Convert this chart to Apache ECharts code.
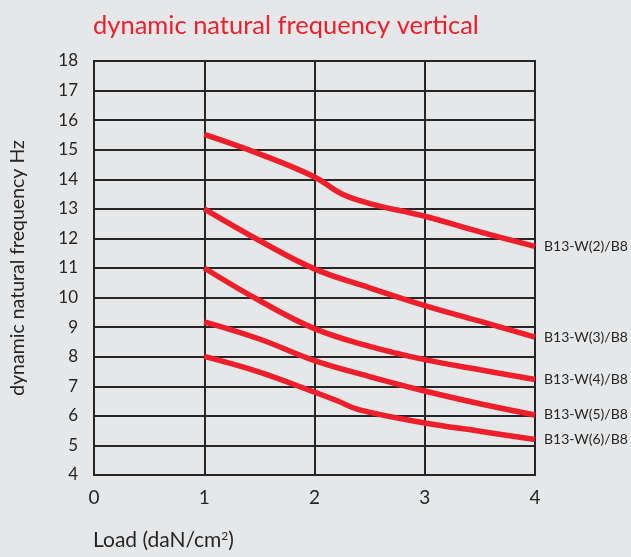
<!DOCTYPE html>
<html>
<head>
<meta charset="utf-8">
<script src="https://cdn.jsdelivr.net/npm/echarts@6/dist/echarts.min.js"></script>
<style>
  html, body { margin: 0; padding: 0; background: #e6e7e9; }
  #chart { width: 631px; height: 557px; }
</style>
</head>
<body>
<div id="chart"></div>
<script>
// load values (daN/cm2) and frequencies (Hz)
var w2 = [[1, 15.52], [1.5, 14.86], [2, 14.08], [2.25, 13.5], [2.5, 13.18], [3, 12.75], [3.5, 12.22], [4, 11.73]];
var w3 = [[1, 13.0], [1.5, 11.93], [2, 10.97], [2.5, 10.33], [3, 9.73], [3.5, 9.2], [4, 8.66]];
var w4 = [[1, 11.0], [1.5, 9.9], [2, 8.95], [2.5, 8.35], [3, 7.9], [3.5, 7.56], [4, 7.23]];
var w5 = [[1, 9.18], [1.5, 8.6], [2, 7.87], [2.5, 7.33], [3, 6.84], [3.5, 6.41], [4, 6.03]];
var w6 = [[1, 8.01], [1.5, 7.48], [2, 6.8], [2.2, 6.52], [2.4, 6.21], [3, 5.76], [3.5, 5.48], [4, 5.2]];
var names = ["B13-W(2)/B8", "B13-W(3)/B8", "B13-W(4)/B8", "B13-W(5)/B8", "B13-W(6)/B8"];
var curves = [w2, w3, w4, w5, w6];

var myChart = echarts.init(document.getElementById("chart"));
var red = "#ee1f2b";
var ink = "#262626";
var font = "Lato";

var series = curves.map(function (d, i) {
  return {
    name: names[i],
    type: "line",
    data: d,
    smooth: 0.4,
    symbol: "none",
    lineStyle: { color: red, width: 5.5 },
    endLabel: {
      show: true,
      formatter: "{a}",
      distance: 9,
      color: ink,
      fontSize: 14,
      fontFamily: font
    }
  };
});

var option = {
  backgroundColor: "#e6e7e9",
  animation: false,
  title: {
    text: "dynamic natural frequency vertical",
    left: 88,
    top: 8,
    textStyle: { color: red, fontSize: 25.5, fontWeight: "normal", fontFamily: font }
  },
  grid: { left: 94, right: 96, top: 61, bottom: 82 },
  xAxis: {
    type: "value",
    min: 0,
    max: 4,
    interval: 1,
    axisLine: { show: true, lineStyle: { color: ink, width: 2 } },
    axisTick: { show: false },
    splitLine: { show: true, lineStyle: { color: ink, width: 2 } },
    axisLabel: { color: ink, fontSize: 19, margin: 13, fontFamily: font }
  },
  yAxis: {
    type: "value",
    min: 4,
    max: 18,
    interval: 1,
    name: "dynamic natural frequency Hz",
    nameLocation: "middle",
    nameGap: 66,
    nameTextStyle: { color: ink, fontSize: 19.5, fontFamily: font },
    axisLine: { show: true, lineStyle: { color: ink, width: 2 } },
    axisTick: { show: false },
    splitLine: { show: true, lineStyle: { color: ink, width: 2 } },
    axisLabel: { color: ink, fontSize: 17, margin: 16, fontFamily: font }
  },
  graphic: [
    {
      type: "text",
      left: 93,
      top: 530,
      style: {
        text: "Load (daN/cm{sup|2})",
        fill: ink,
        fontSize: 21,
        fontFamily: font,
        rich: {
          sup: { fontSize: 12, fontFamily: font, fill: ink, verticalAlign: "top", padding: [0, 0, 9, 0] }
        }
      }
    },
    {
      // top and right frame
      type: "rect",
      shape: { x: 94, y: 61, width: 441, height: 414 },
      style: { fill: "none", stroke: ink, lineWidth: 2 },
      silent: true
    }
  ],
  series: series
};

myChart.setOption(option);
</script>
</body>
</html>
